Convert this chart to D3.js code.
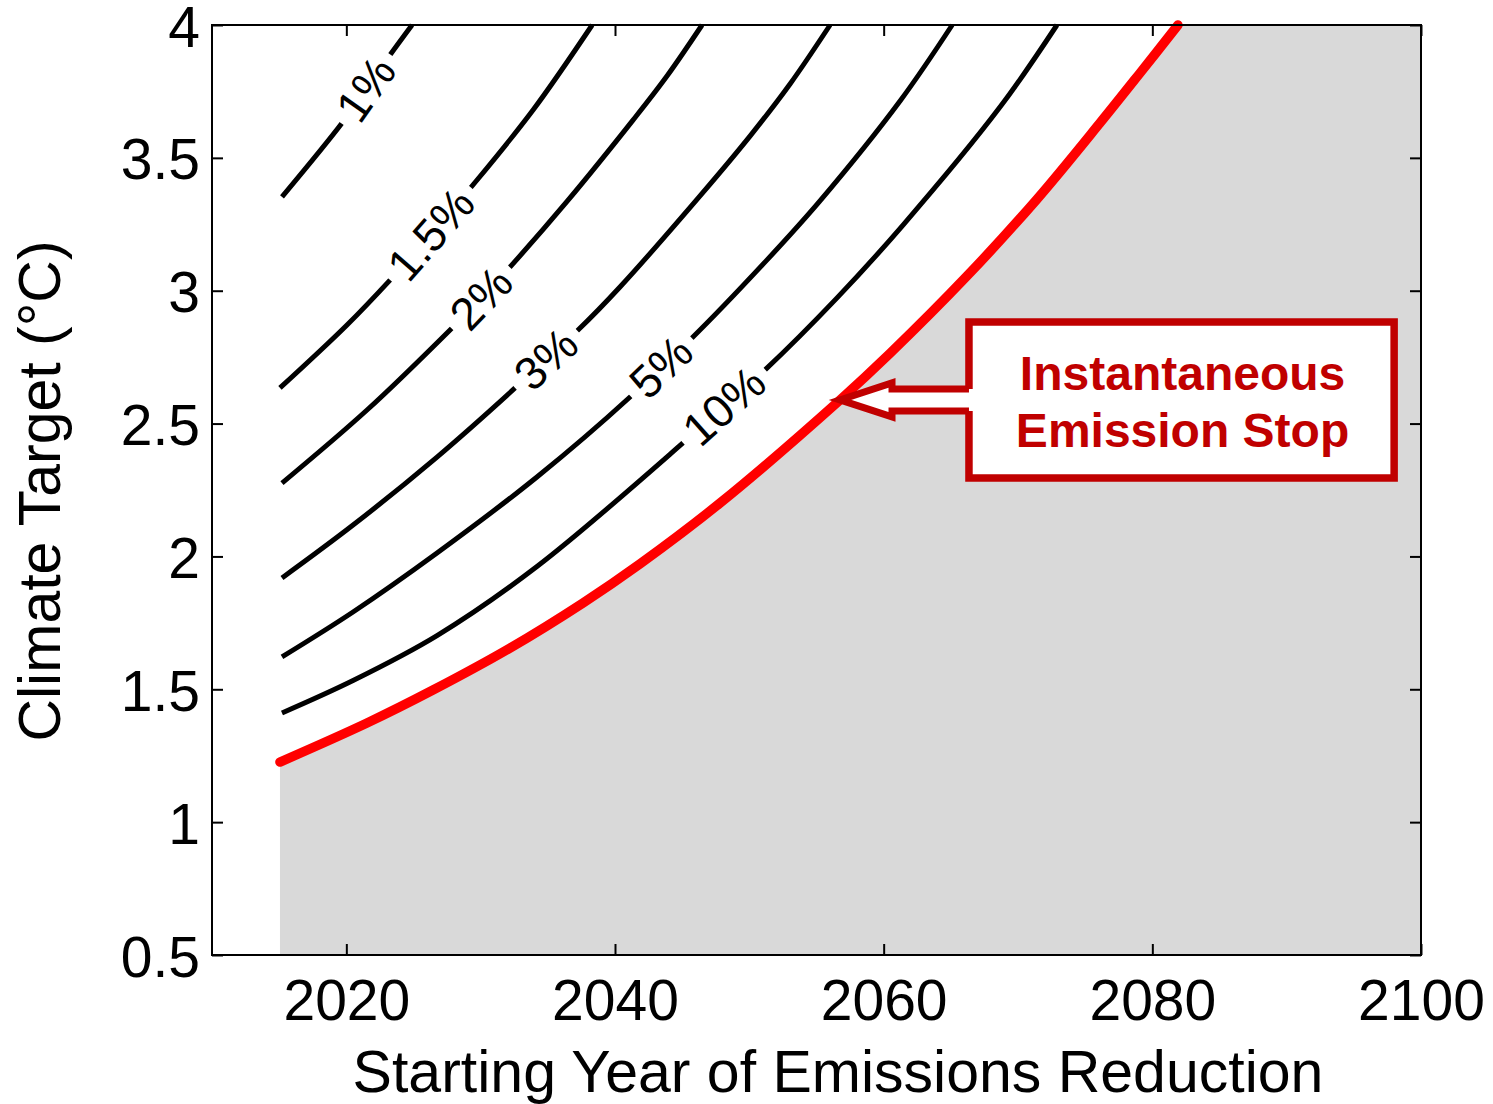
<!DOCTYPE html>
<html><head><meta charset="utf-8">
<script src="https://cdn.jsdelivr.net/npm/d3@7"></script>
<style>body{margin:0;background:#fff} svg{display:block} text{font-family:"Liberation Sans",Arial,sans-serif}</style>
</head><body><svg id="c" width="1493" height="1104"></svg>
<script>
// ---- data ----
const xTicks = [2020, 2040, 2060, 2080, 2100];
const yTicks = [0.5, 1, 1.5, 2, 2.5, 3, 3.5, 4];
const yTickLabels = ["0.5", "1", "1.5", "2", "2.5", "3", "3.5", "4"];
const contourLabels = ["1%", "1.5%", "2%", "3%", "5%", "10%"];
const contour1 = [[2015.21,3.353],[2019.68,3.631],[2021.46,3.759],[2023.25,3.887],[2024.89,4.0]];
const contour15 = [[2015.06,2.634],[2020.05,2.871],[2023.25,3.040],[2026.30,3.213],[2029.36,3.394],[2033.90,3.680],[2038.30,4.0]];
const contour2 = [[2015.21,2.276],[2021.54,2.551],[2027.87,2.860],[2030.03,2.972],[2032.18,3.089],[2036.43,3.336],[2041.34,3.642],[2043.87,3.808],[2046.48,4.0]];
const contour3 = [[2015.21,1.919],[2020.50,2.118],[2026.75,2.374],[2032.56,2.634],[2034.86,2.743],[2037.25,2.852],[2040.37,3.014],[2046.33,3.357],[2050.05,3.582],[2053.03,3.778],[2056.01,4.0]];
const contour5 = [[2015.21,1.622],[2020.50,1.791],[2026.75,2.013],[2034.19,2.299],[2041.12,2.600],[2043.42,2.713],[2045.73,2.822],[2051.32,3.116],[2055.26,3.338],[2061.22,3.714],[2065.10,4.0]];
const contour10 = [[2015.21,1.411],[2020.50,1.533],[2026.75,1.702],[2034.19,1.962],[2045.06,2.427],[2048.11,2.566],[2051.17,2.702],[2056.53,2.973],[2061.44,3.247],[2068.66,3.691],[2072.90,4.0]];
const contourLabelAt = [2, 3, 3, 4, 5, 5];
const instantStop = [[2015.06,1.226],[2021.54,1.373],[2026.45,1.497],[2032.18,1.655],[2037.62,1.825],[2041.86,1.972],[2047.82,2.201],[2056.75,2.589],[2060.47,2.764],[2066.20,3.055],[2071.42,3.345],[2076.10,3.631],[2079.08,3.819],[2081.91,4.0]];
const annotationLines = ["Instantaneous", "Emission Stop"];
const arrowTipIndex = 7;

// ---- layout ----
const L = 212, R = 1421, T = 25, B = 955;
const svg = d3.select("#c");
svg.append("rect").attr("width", 1493).attr("height", 1104).attr("fill", "#fff");
const x = d3.scaleLinear().domain([2010, 2100]).range([L, R]);
const y = d3.scaleLinear().domain([0.5, 4]).range([B, T]);

// gray infeasible region
const curve = d3.curveCatmullRom.alpha(0.5);
const area = d3.area().x(d => x(d[0])).y0(y(0.5)).y1(d => y(d[1])).curve(curve);
svg.append("path").datum(instantStop).attr("d", area).attr("fill", "#d9d9d9");
const last = instantStop[instantStop.length - 1];
svg.append("rect").attr("x", x(last[0]) - 0.5).attr("y", y(4)).attr("width", x(2100) - x(last[0]) + 0.5)
  .attr("height", y(0.5) - y(4)).attr("fill", "#d9d9d9");

// contours
const line = d3.line().x(d => x(d[0])).y(d => y(d[1])).curve(curve);
const contours = [contour1, contour15, contour2, contour3, contour5, contour10];
const cg = svg.append("g");
contours.forEach(c => {
  cg.append("path").datum(c).attr("d", line).attr("fill", "none")
    .attr("stroke", "#000").attr("stroke-width", 5).attr("stroke-linecap", "butt");
});
contours.forEach((c, i) => {
  const k = contourLabelAt[i];
  const p = c[k], a = c[k - 1], b = c[k + 1];
  const ang = Math.atan2(y(b[1]) - y(a[1]), x(b[0]) - x(a[0])) * 180 / Math.PI;
  const g = cg.append("g").attr("transform", `translate(${x(p[0])},${y(p[1])}) rotate(${ang})`);
  const r = g.append("rect").attr("fill", "#fff");
  const t = g.append("text").text(contourLabels[i]).attr("text-anchor", "middle")
    .attr("dominant-baseline", "central").attr("font-size", 46).attr("fill", "#000");
  const w = t.node().getComputedTextLength() + 18;
  r.attr("x", -w / 2).attr("y", -10).attr("width", w).attr("height", 20);
});

// instantaneous emission stop line
svg.append("path").datum(instantStop).attr("d", line).attr("fill", "none")
  .attr("stroke", "#ff0000").attr("stroke-width", 9.5).attr("stroke-linecap", "round");

// annotation
const tip = instantStop[arrowTipIndex];
const tx = x(tip[0]), ty = y(tip[1]);
const bx0 = x(2066.35), bx1 = x(2098.0), by0 = y(2.882), by1 = y(2.295);
const ann = "#c00000";
svg.append("rect").attr("x", bx0).attr("y", by0).attr("width", bx1 - bx0).attr("height", by1 - by0).attr("fill", "#fff");
const hx = tx + 52;
svg.append("path")
  .attr("d", `M${bx0},${ty - 11}H${hx}V${ty - 17}L${tx},${ty}L${hx},${ty + 17}V${ty + 11}H${bx0}`)
  .attr("fill", "#fff").attr("stroke", ann).attr("stroke-width", 7).attr("stroke-linejoin", "miter");
svg.append("path")
  .attr("d", `M${bx0},${ty - 11}V${by0}H${bx1}V${by1}H${bx0}V${ty + 11}`)
  .attr("fill", "none").attr("stroke", ann).attr("stroke-width", 7.5).attr("stroke-linejoin", "miter");
const cx = (bx0 + bx1) / 2 + 1;
annotationLines.forEach((s, i) => {
  svg.append("text").attr("x", cx).attr("y", 390 + i * 57).attr("text-anchor", "middle")
    .attr("font-size", 48).attr("font-weight", "bold").attr("fill", ann).text(s);
});

// axes
function style(g) {
  g.select(".domain").remove();
  g.selectAll(".tick line").attr("stroke", "#000").attr("stroke-width", 2);
  g.selectAll("text").attr("font-size", 57).attr("font-family", '"Liberation Sans",Arial,sans-serif').attr("fill", "#000");
}
svg.append("g").attr("transform", `translate(0,${B})`)
  .call(d3.axisBottom(x).tickValues(xTicks).tickSize(-11).tickPadding(25).tickFormat(d3.format("d"))).call(style);
svg.append("g").attr("transform", `translate(0,${T})`)
  .call(d3.axisTop(x).tickValues(xTicks).tickSize(-11).tickFormat("")).call(style);
svg.append("g").attr("transform", `translate(${L},0)`)
  .call(d3.axisLeft(y).tickValues(yTicks).tickSize(-11).tickPadding(12).tickFormat((d, i) => yTickLabels[i])).call(style)
  .selectAll("text").attr("dy", "0.37em");
svg.append("g").attr("transform", `translate(${R},0)`)
  .call(d3.axisRight(y).tickValues(yTicks).tickSize(-11).tickFormat("")).call(style);
svg.append("rect").attr("x", L).attr("y", T).attr("width", R - L).attr("height", B - T)
  .attr("fill", "none").attr("stroke", "#000").attr("stroke-width", 2);

// titles
svg.append("text").attr("x", 838).attr("y", 1092).attr("text-anchor", "middle").attr("font-size", 59)
  .attr("fill", "#000").text("Starting Year of Emissions Reduction");
svg.append("text").attr("transform", "translate(60,491) rotate(-90)").attr("text-anchor", "middle")
  .attr("font-size", 59).attr("fill", "#000").text("Climate Target (°C)");
</script></body></html>
